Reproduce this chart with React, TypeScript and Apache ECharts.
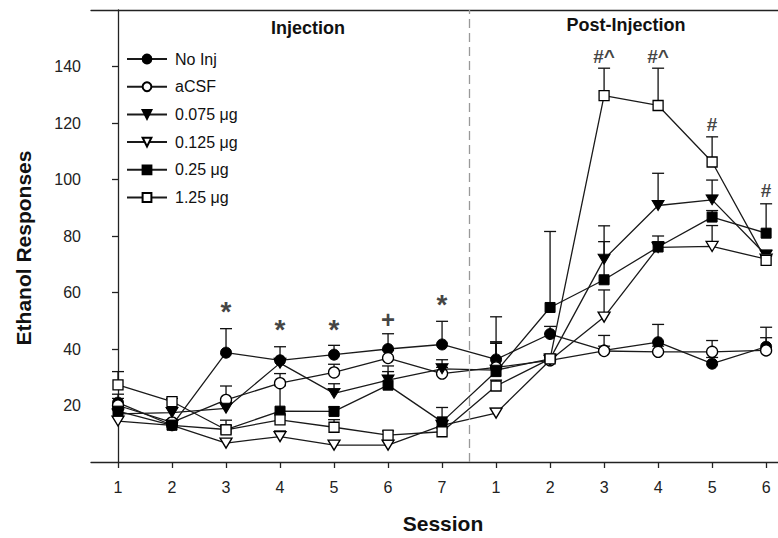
import React, { useEffect, useRef } from "react";
import * as echarts from "echarts";

// ---- data ----
const sessionLabels = ["1", "2", "3", "4", "5", "6", "7", "1", "2", "3", "4", "5", "6"];
const xPos = [0, 1, 2, 3, 4, 5, 6, 7, 8, 9, 10, 11, 12];

const noInj = [21, 13, 38.7, 36, 38, 40, 41.6, 36.3, 45.3, 39.5, 42.4, 34.8, 40.8];
const noInjErr = [24, 14.5, 47.2, 40.8, 41.3, 45.4, 49.8, 51.4, 48, 41, 48.7, 37, 47.7];
const aCSF = [20, 14, 22, 27.9, 31.7, 36.8, 31.3, 33.5, 36, 39.3, 39, 39, 39.5];
const aCSFErr = [22.5, 15, 26.9, 31.3, 34.6, 39.5, 33.5, 42.5, 38, 44.8, 41, 43, 44];
const dose075 = [17, 17.5, 19, 35, 24.3, 29, 33, 32.5, 36.5, 71.8, 90.8, 92.8, 73.2];
const dose075Err = [19, 19, 21, 36, 27.7, 32, 36.2, 42, 38, 83.6, 102.2, 99.8, 75];
const dose0125 = [14.5, 13, 6.7, 9, 6, 6, 13, 17.3, 36, 51.3, 76, 76.3, 71.8];
const dose0125Err = [16, 14, 8, 11, 7.5, 7.5, 14.5, 19, 37, 60.9, 78, 83.7, 73];
const dose025 = [18, 13, 11.5, 18, 17.9, 27.2, 14.2, 32, 54.7, 64.5, 76.1, 86.7, 81];
const dose025Err = [20, 14, 13, 27, 19.5, 34, 19.3, 42.5, 81.6, 78, 80, 89, 91.4];
const dose125 = [27.3, 21.4, 11.4, 14.9, 12.3, 9.5, 10.7, 26.9, 36.5, 129.7, 126.2, 106.2, 71.4];
const dose125Err = [32, 22.5, 14.8, 17, 15, 11, 12, 29, 37.5, 139.4, 139.4, 115.1, 73];

const yTicks = [20, 40, 60, 80, 100, 120, 140];

const annotX = [2, 3, 4, 5, 6, 9, 10, 11, 12];
const annotY = [53.4, 46.9, 46.9, 50.5, 55.9, 143.5, 143.5, 119.5, 96];
const annotText = ["*", "*", "*", "+", "*", "#^", "#^", "#", "#"];

const phaseBoundary = 6.5;

const FONT = "'Liberation Sans', Arial, sans-serif";
const TRI = "path://M0,0L20,0L10,17Z";

type Grp = { name: string; vals: number[]; err: number[]; symbol: string; filled: boolean; size: number };
const groups: Grp[] = [
  { name: "No Inj", vals: noInj, err: noInjErr, symbol: "circle", filled: true, size: 11 },
  { name: "aCSF", vals: aCSF, err: aCSFErr, symbol: "circle", filled: false, size: 11 },
  { name: "0.075 μg", vals: dose075, err: dose075Err, symbol: TRI, filled: true, size: 12 },
  { name: "0.125 μg", vals: dose0125, err: dose0125Err, symbol: TRI, filled: false, size: 12 },
  { name: "0.25 μg", vals: dose025, err: dose025Err, symbol: "rect", filled: true, size: 10 },
  { name: "1.25 μg", vals: dose125, err: dose125Err, symbol: "rect", filled: false, size: 10 },
];

export default function App() {
  const ref = useRef<HTMLDivElement>(null);
  useEffect(() => {
    if (!ref.current) return;
    const chart = echarts.init(ref.current, undefined, { renderer: "svg" });

    const errData: number[][] = [];
    groups.forEach((g) => g.vals.forEach((v, i) => errData.push([xPos[i], v, g.err[i]])));

    const lineSeries = groups.map((g, gi) => ({
      type: "line",
      name: g.name,
      data: g.vals.map((v, i) => [xPos[i], v]),
      symbol: g.symbol,
      symbolSize: g.symbol === TRI ? [12, 10] : g.size,
      showAllSymbol: true,
      z: 3,
      lineStyle: { color: "#1a1a1a", width: 1.3 },
      itemStyle: g.filled
        ? { color: "#000", borderColor: "#000", borderWidth: 1 }
        : { color: "#fff", borderColor: "#000", borderWidth: 1.3 },
      emphasis: { disabled: true },
      markLine:
        gi === 0
          ? {
              silent: true,
              symbol: "none",
              label: { show: false },
              lineStyle: { color: "#999", type: [9, 5], width: 1.3 },
              data: [{ xAxis: phaseBoundary }],
            }
          : undefined,
    }));

    const annots = annotX.map((x, i) => ({ x, y: annotY[i], t: annotText[i] }));
    const mkAnnot = (name: string, items: typeof annots, size: number) => ({
      type: "scatter",
      name,
      silent: true,
      symbolSize: 0,
      z: 5,
      data: items.map((a) => ({ value: [a.x, a.y], name: a.t })),
      label: {
        show: true,
        position: "inside",
        formatter: (p: any) => p.name,
        fontFamily: FONT,
        fontWeight: "bold",
        fontSize: size,
        color: "#111",
      },
    });

    chart.setOption({
      animation: false,
      grid: { left: 91, top: 10, right: 0, bottom: 76, containLabel: false },
      legend: {
        data: groups.map((g) => g.name),
        orient: "vertical",
        left: 121,
        top: 46,
        itemWidth: 40,
        itemHeight: 11,
        itemGap: 11.7,
        textStyle: { fontFamily: FONT, fontSize: 16, color: "#111", padding: [0, 0, 0, 3] },
        selectedMode: false,
      },
      xAxis: [
        {
          type: "value",
          min: -0.5,
          max: 12.22,
          axisLine: { show: true, lineStyle: { color: "#222", width: 1.3 } },
          axisTick: {
            show: true,
            customValues: xPos,
            length: 6,
            lineStyle: { color: "#222", width: 1.3 },
          },
          axisLabel: {
            customValues: xPos,
            formatter: (v: number) => sessionLabels[Math.round(v)] ?? "",
            fontFamily: FONT,
            fontSize: 16,
            color: "#222",
            margin: 17,
          },
          splitLine: { show: false },
        },
        {
          type: "value",
          position: "top",
          min: -0.5,
          max: 12.22,
          axisLine: { show: true, lineStyle: { color: "#222", width: 1.3 } },
          axisTick: { show: false },
          axisLabel: { show: false },
          splitLine: { show: false },
        },
      ],
      yAxis: {
        type: "value",
        min: 0,
        max: 160,
        axisLine: { show: true, lineStyle: { color: "#222", width: 1.3 } },
        axisTick: { show: true, customValues: yTicks, length: 6, lineStyle: { color: "#222", width: 1.3 } },
        axisLabel: { customValues: yTicks, fontFamily: FONT, fontSize: 16, color: "#222", margin: 10 },
        splitLine: { show: false },
      },
      graphic: [
        {
          type: "text",
          x: 308,
          y: 28,
          style: { text: "Injection", font: `bold 18px ${FONT}`, fill: "#111", align: "center", verticalAlign: "middle" },
        },
        {
          type: "text",
          x: 626,
          y: 25,
          style: { text: "Post-Injection", font: `bold 18px ${FONT}`, fill: "#111", align: "center", verticalAlign: "middle" },
        },
        {
          type: "text",
          x: 443,
          y: 523,
          style: { text: "Session", font: `bold 21px ${FONT}`, fill: "#111", align: "center", verticalAlign: "middle" },
        },
        {
          type: "text",
          x: 23,
          y: 248,
          rotation: Math.PI / 2,
          style: { text: "Ethanol Responses", font: `bold 21px ${FONT}`, fill: "#111", align: "center", verticalAlign: "middle" },
        },
      ],
      series: [
        {
          type: "custom",
          name: "err",
          silent: true,
          z: 2,
          data: errData,
          encode: { x: 0, y: [1, 2] },
          renderItem: (params: any, api: any) => {
            const x = api.value(0);
            const lo = api.coord([x, api.value(1)]);
            const hi = api.coord([x, api.value(2)]);
            const st = { stroke: "#111", lineWidth: 1.3 };
            return {
              type: "group",
              children: [
                { type: "line", shape: { x1: lo[0], y1: lo[1], x2: hi[0], y2: hi[1] }, style: st },
                { type: "line", shape: { x1: hi[0] - 6, y1: hi[1], x2: hi[0] + 6, y2: hi[1] }, style: st },
              ],
            };
          },
        },
        ...lineSeries,
        mkAnnot("annotHash", annots.filter((a) => a.t.startsWith("#")), 19),
        mkAnnot("annotPlus", annots.filter((a) => a.t === "+"), 24),
        mkAnnot("annotStar", annots.filter((a) => a.t === "*"), 28),
      ],
    });
    return () => chart.dispose();
  }, []);
  return <div ref={ref} style={{ position: "fixed", left: 0, top: 0, width: 778, height: 538, background: "#fff" }} />;
}
